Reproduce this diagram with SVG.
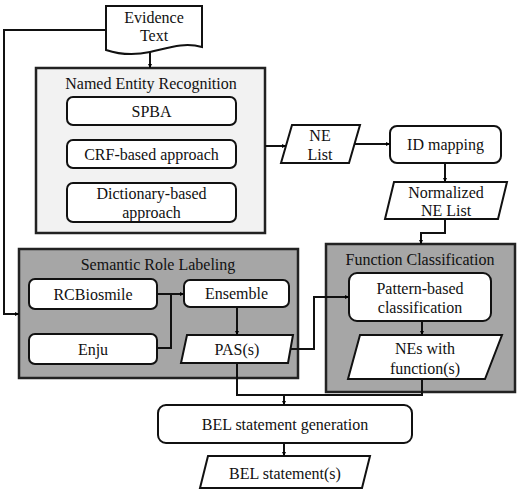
<svg xmlns="http://www.w3.org/2000/svg" width="520" height="493" viewBox="0 0 520 493">
<defs>
<marker id="ah" viewBox="0 0 10 10" refX="10" refY="5" markerWidth="4" markerHeight="4" markerUnits="userSpaceOnUse" orient="auto">
<path d="M0,0 L10,5 L0,10 Z" fill="#000"/>
</marker>
</defs>
<style>
text{font-family:'Liberation Serif','Times New Roman','DejaVu Serif',serif;font-size:16px;fill:#111;text-anchor:middle}
.grp{stroke:#222;stroke-width:2.5}
.light{fill:#f2f2f2}
.dark{fill:#a6a6a6}
.box{fill:#fff;stroke:#111;stroke-width:2}
.conn{fill:none;stroke:#111;stroke-width:2}
.arr{marker-end:url(#ah)}
</style>
<rect width="520" height="493" fill="#fff"/>

<g id="evidence" font-family="Liberation Serif, serif">
<path class="box" d="M106,6 H202 V47 C184,42 168,48 150,52 C132,56 118,54 106,50 Z"/>
<text x="154" y="23">Evidence</text>
<text x="154" y="41">Text</text>
</g>

<g id="ner">
<rect class="grp light" x="36" y="68" width="229" height="165"/>
<text x="151" y="89">Named Entity Recognition</text>
<g id="spba"><rect class="box" x="67" y="97" width="169" height="28" rx="6"/><text x="151.5" y="117">SPBA</text></g>
<g id="crf"><rect class="box" x="67" y="140" width="169" height="28" rx="6"/><text x="151.5" y="160">CRF-based  approach</text></g>
<g id="dict"><rect class="box" x="67" y="183" width="169" height="39" rx="6"/><text x="151.5" y="199">Dictionary-based</text><text x="151.5" y="218">approach</text></g>
</g>

<g id="nelist">
<polygon class="box" points="292,125 360,125 349,163 281,163"/>
<text x="320" y="141">NE</text>
<text x="320" y="160">List</text>
</g>

<g id="idmapping">
<rect class="box" x="390" y="126" width="111" height="37" rx="7"/>
<text x="445.5" y="150">ID mapping</text>
</g>

<g id="normalized">
<polygon class="box" points="394,182 507,182 498,219 385,219"/>
<text x="446" y="198">Normalized</text>
<text x="446" y="216">NE List</text>
</g>

<g id="srl">
<rect class="grp dark" x="19" y="249" width="279" height="129"/>
<text x="158" y="270">Semantic Role Labeling</text>
<g id="rcbiosmile"><rect class="box" x="29" y="279" width="128" height="30" rx="6"/><text x="93" y="300">RCBiosmile</text></g>
<g id="enju"><rect class="box" x="29" y="334" width="128" height="30" rx="6"/><text x="93" y="355">Enju</text></g>
<g id="ensemble"><rect class="box" x="184" y="280" width="105" height="27" rx="6"/><text x="236.5" y="299">Ensemble</text></g>
<g id="pas"><polygon class="box" points="187,335 293,335 288,363 181,363"/><text x="237" y="355">PAS(s)</text></g>
</g>

<g id="fc">
<rect class="grp dark" x="326" y="244" width="189" height="148"/>
<text x="420" y="265">Function Classification</text>
<g id="pattern"><rect class="box" x="349" y="273" width="142" height="48" rx="8"/><text x="420" y="294">Pattern-based</text><text x="420" y="313">classification</text></g>
<g id="nesfunc"><polygon class="box" points="360,335 502,335 485,379 348,379"/><text x="425" y="354">NEs with</text><text x="425" y="374">function(s)</text></g>
</g>

<g id="belgen">
<rect class="box" x="158" y="405" width="254" height="38" rx="8"/>
<text x="285" y="430">BEL statement  generation</text>
</g>

<g id="belstmt">
<polygon class="box" points="208,456 370,456 362,488 200,488"/>
<text x="285" y="479">BEL statement(s)</text>
</g>

<g id="connectors">
<path class="conn arr" d="M150,52 V68"/>
<path class="conn arr" d="M106,30 H4 V314 H19"/>
<path class="conn arr" d="M265,146 H286"/>
<path class="conn arr" d="M354,144 H390"/>
<path class="conn arr" d="M445,163 V182"/>
<path class="conn arr" d="M445,219 V233 H421 V244"/>
<path class="conn arr" d="M157,294 H184"/>
<path class="conn" d="M157,348 H171 V294"/>
<path class="conn arr" d="M237,307 V335"/>
<path class="conn arr" d="M290,349 H314 V297 H349"/>
<path class="conn arr" d="M422,321 V335"/>
<path class="conn" d="M237,363 V395 H422 V379"/>
<path class="conn arr" d="M284,395 V405"/>
<path class="conn arr" d="M284,443 V456"/>
</g>
</svg>
